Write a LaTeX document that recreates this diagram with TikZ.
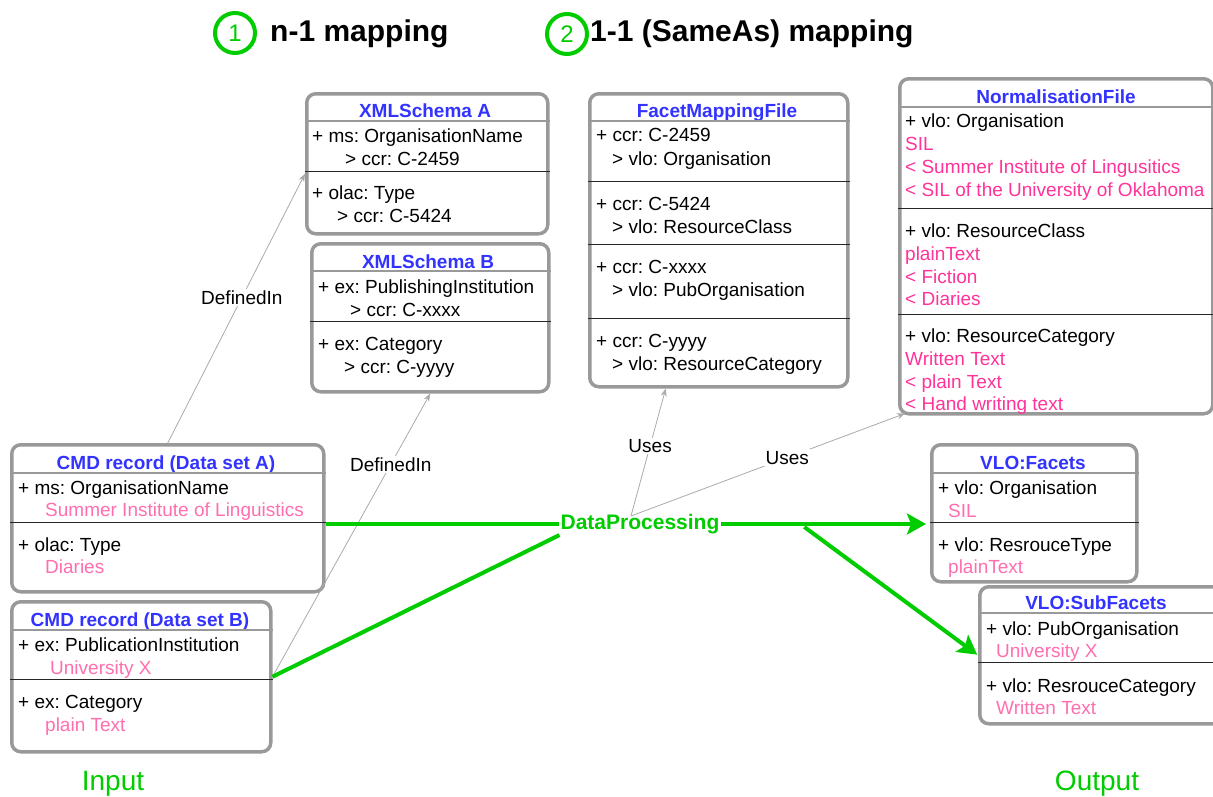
\documentclass[tikz,border=0pt]{standalone}
\usepackage{fontspec}
\setmainfont{Liberation Sans}
\usetikzlibrary{arrows.meta,calc}
\frenchspacing

\definecolor{frame}{HTML}{999999}
\definecolor{hdr}{HTML}{3333FF}
\definecolor{hot}{HTML}{FF3399}
\definecolor{soft}{HTML}{FF6FB0}
\definecolor{grn}{HTML}{00CC00}
\definecolor{wire}{HTML}{AAAAAA}

\tikzset{
  box/.style={draw=frame, line width=3.5pt, rounded corners=9pt, fill=white, inner sep=0pt, anchor=north west},
  hdrule/.style={draw=frame, line width=2.5pt},
  sep/.style={draw=black!85, line width=0.9pt},
  hd/.style={font=\fontsize{19}{19}\selectfont\bfseries, text=hdr, anchor=base, inner sep=0pt},
  ln/.style={font=\fontsize{19}{19}\selectfont, anchor=base west, inner sep=0pt},
  pk/.style={ln, text=soft},
  hk/.style={ln, text=hot},
  lbl/.style={font=\fontsize{19}{19}\selectfont, fill=white, inner sep=1.5pt},
  uses/.style={draw=wire, line width=0.8pt, -{Stealth[length=8pt,width=6pt]}},
  flow/.style={draw=grn, line width=4pt},
  flowarrow/.style={flow, -{Stealth[length=19pt,width=21pt,inset=4pt]}},
  badge/.style={circle, draw=grn, line width=4pt, minimum size=40pt, inner sep=0pt,
                text=grn, font=\fontsize{24}{24}\selectfont},
  title/.style={font=\fontsize{30}{30}\selectfont\bfseries, anchor=base west, inner sep=0pt},
  io/.style={font=\fontsize{28}{28}\selectfont, text=grn, anchor=base, inner sep=0pt}
}

% frame of a class box: name, left, top, right, bottom
\newcommand\classframe[5]{%
  \node[box, minimum width={(#4-#2)*1pt}, minimum height={(#5-#3)*1pt}] (#1) at (#2,#3) {};}
% horizontal rule across a box at a given height
\newcommand\boxrule[3]{\draw[#2] (#1.west |- 0,#3) -- (#1.east |- 0,#3);}

\begin{document}
\begin{tikzpicture}[x=1pt,y=-1pt]
\useasboundingbox (0,0) rectangle (1213,796);

% ---------- titles ----------
\node[badge] (b1) at (235,33) {1};
\node[title] (t1) at (270,41) {n-1 mapping};
\node[badge] (b2) at (567,34) {2};
\node[title] (t2) at (590,41) {1-1 (SameAs) mapping};

% ---------- XMLSchema A ----------
\classframe{xsa}{305}{92}{546}{232}
\node[hd] (xsah) at (425,117) {XMLSchema A};
\boxrule{xsa}{hdrule}{121}
\node[ln] (xsa1) at (312,142) {+ ms: OrganisationName};
\node[ln] (xsa2) at (345,165) {> ccr: C-2459};
\boxrule{xsa}{sep}{171}
\node[ln] (xsa3) at (312,199) {+ olac: Type};
\node[ln] (xsa4) at (337,222) {> ccr: C-5424};

% ---------- XMLSchema B ----------
\classframe{xsb}{310}{242}{547}{390}
\node[hd] (xsbh) at (428,268) {XMLSchema B};
\boxrule{xsb}{hdrule}{271}
\node[ln] (xsb1) at (318,293) {+ ex: PublishingInstitution};
\node[ln] (xsb2) at (350,316) {> ccr: C-xxxx};
\boxrule{xsb}{sep}{321}
\node[ln] (xsb3) at (318,350) {+ ex: Category};
\node[ln] (xsb4) at (344,373) {> ccr: C-yyyy};

% ---------- FacetMappingFile ----------
\classframe{fmf}{588}{92}{846}{385}
\node[hd] (fmfh) at (717,117) {FacetMappingFile};
\boxrule{fmf}{hdrule}{121}
\node[ln] (fmf1) at (596,141) {+ ccr: C-2459};
\node[ln] (fmf2) at (612,165) {> vlo: Organisation};
\boxrule{fmf}{sep}{181}
\node[ln] (fmf3) at (596,210) {+ ccr: C-5424};
\node[ln] (fmf4) at (612,233) {> vlo: ResourceClass};
\boxrule{fmf}{sep}{244}
\node[ln] (fmf5) at (596,273) {+ ccr: C-xxxx};
\node[ln] (fmf6) at (612,296) {> vlo: PubOrganisation};
\boxrule{fmf}{sep}{318}
\node[ln] (fmf7) at (596,347) {+ ccr: C-yyyy};
\node[ln] (fmf8) at (612,370) {> vlo: ResourceCategory};

% ---------- NormalisationFile ----------
\classframe{nf}{898}{77}{1211}{412}
\node[hd] (nfh) at (1056,103) {NormalisationFile};
\boxrule{nf}{hdrule}{107}
\node[ln] (nf1) at (905,127) {+ vlo: Organisation};
\node[hk] (nf2) at (905,150) {SIL};
\node[hk] (nf3) at (905,173) {< Summer Institute of Lingusitics};
\node[hk] (nf4) at (905,196) {< SIL of the University of Oklahoma};
\boxrule{nf}{sep}{208}
\node[ln] (nf5) at (905,237) {+ vlo: ResourceClass};
\node[hk] (nf6) at (905,260) {plainText};
\node[hk] (nf7) at (905,283) {< Fiction};
\node[hk] (nf8) at (905,305) {< Diaries};
\boxrule{nf}{sep}{314}
\node[ln] (nf9) at (905,342) {+ vlo: ResourceCategory};
\node[hk] (nf10) at (905,365) {Written Text};
\node[hk] (nf11) at (905,388) {< plain Text};
\node[hk] (nf12) at (905,410) {< Hand writing text};

% ---------- CMD record A ----------
\classframe{cmda}{10}{443}{322}{590}
\node[hd] (cmdah) at (166,469) {CMD record (Data set A)};
\boxrule{cmda}{hdrule}{473}
\node[ln] (cmda1) at (18,494) {+ ms: OrganisationName};
\node[pk] (cmda2) at (45,516) {Summer Institute of Linguistics};
\boxrule{cmda}{sep}{522}
\node[ln] (cmda3) at (18,551) {+ olac: Type};
\node[pk] (cmda4) at (45,573) {Diaries};

% ---------- CMD record B ----------
\classframe{cmdb}{10}{600}{269}{750}
\node[hd] (cmdbh) at (140,626) {CMD record (Data set B)};
\boxrule{cmdb}{hdrule}{630}
\node[ln] (cmdb1) at (18,651) {+ ex: PublicationInstitution};
\node[pk] (cmdb2) at (50,674) {University X};
\boxrule{cmdb}{sep}{679}
\node[ln] (cmdb3) at (18,708) {+ ex: Category};
\node[pk] (cmdb4) at (45,731) {plain Text};

% ---------- VLO:Facets ----------
\classframe{fac}{930}{443}{1135}{580}
\node[hd] (fach) at (1033,469) {VLO:Facets};
\boxrule{fac}{hdrule}{473}
\node[ln] (fac1) at (938,494) {+ vlo: Organisation};
\node[pk] (fac2) at (948,517) {SIL};
\boxrule{fac}{sep}{522}
\node[ln] (fac3) at (938,551) {+ vlo: ResrouceType};
\node[pk] (fac4) at (948,573) {plainText};

% ---------- VLO:SubFacets ----------
\classframe{subf}{978}{585}{1225}{722}
\node[hd] (subfh) at (1096,609) {VLO:SubFacets};
\boxrule{subf}{hdrule}{613}
\node[ln] (subf1) at (986,635) {+ vlo: PubOrganisation};
\node[pk] (subf2) at (996,657) {University X};
\boxrule{subf}{sep}{662}
\node[ln] (subf3) at (986,692) {+ vlo: ResrouceCategory};
\node[pk] (subf4) at (996,714) {Written Text};

% ---------- definitions ----------
\draw[uses] (cmda.north) -- ([yshift=-10pt]xsa.west)
  node[lbl, pos=0.54] (d1) {DefinedIn};
\draw[uses] (cmdb.east) -- (xsb.south)
  node[lbl, pos=0.75] (d2) {DefinedIn};

% ---------- processing ----------
\node[font=\fontsize{21}{21}\selectfont\bfseries, text=grn, fill=white, inner sep=1pt] (dp) at (640,524) {DataProcessing};
\coordinate (uo) at ([xshift=-9pt,yshift=-3pt]dp.north);
\draw[uses] (uo) -- ([xshift=-53pt]fmf.south)
  node[lbl, pos=0.55] (u1) {Uses};
\draw[uses] (uo) -- ([xshift=7pt,yshift=2pt]nf.south west)
  node[lbl, pos=0.57] (u2) {Uses};

\draw[flow] (cmda.east |- dp.west) -- (dp.west);
\draw[flow] (cmdb.east) -- (dp.south west);
\draw[flowarrow, shorten >=4pt] (dp.east) -- (dp.east -| fac.west);
\coordinate (br) at ($(dp.east)!0.4!(dp.east -| fac.west)$);
\draw[flowarrow, shorten >=1pt] ([yshift=-3pt]br) -- (subf.west);

% ---------- sides ----------
\node[io] (in) at (113,790) {Input};
\node[io] (out) at (1097,790) {Output};
\end{tikzpicture}
\end{document}
